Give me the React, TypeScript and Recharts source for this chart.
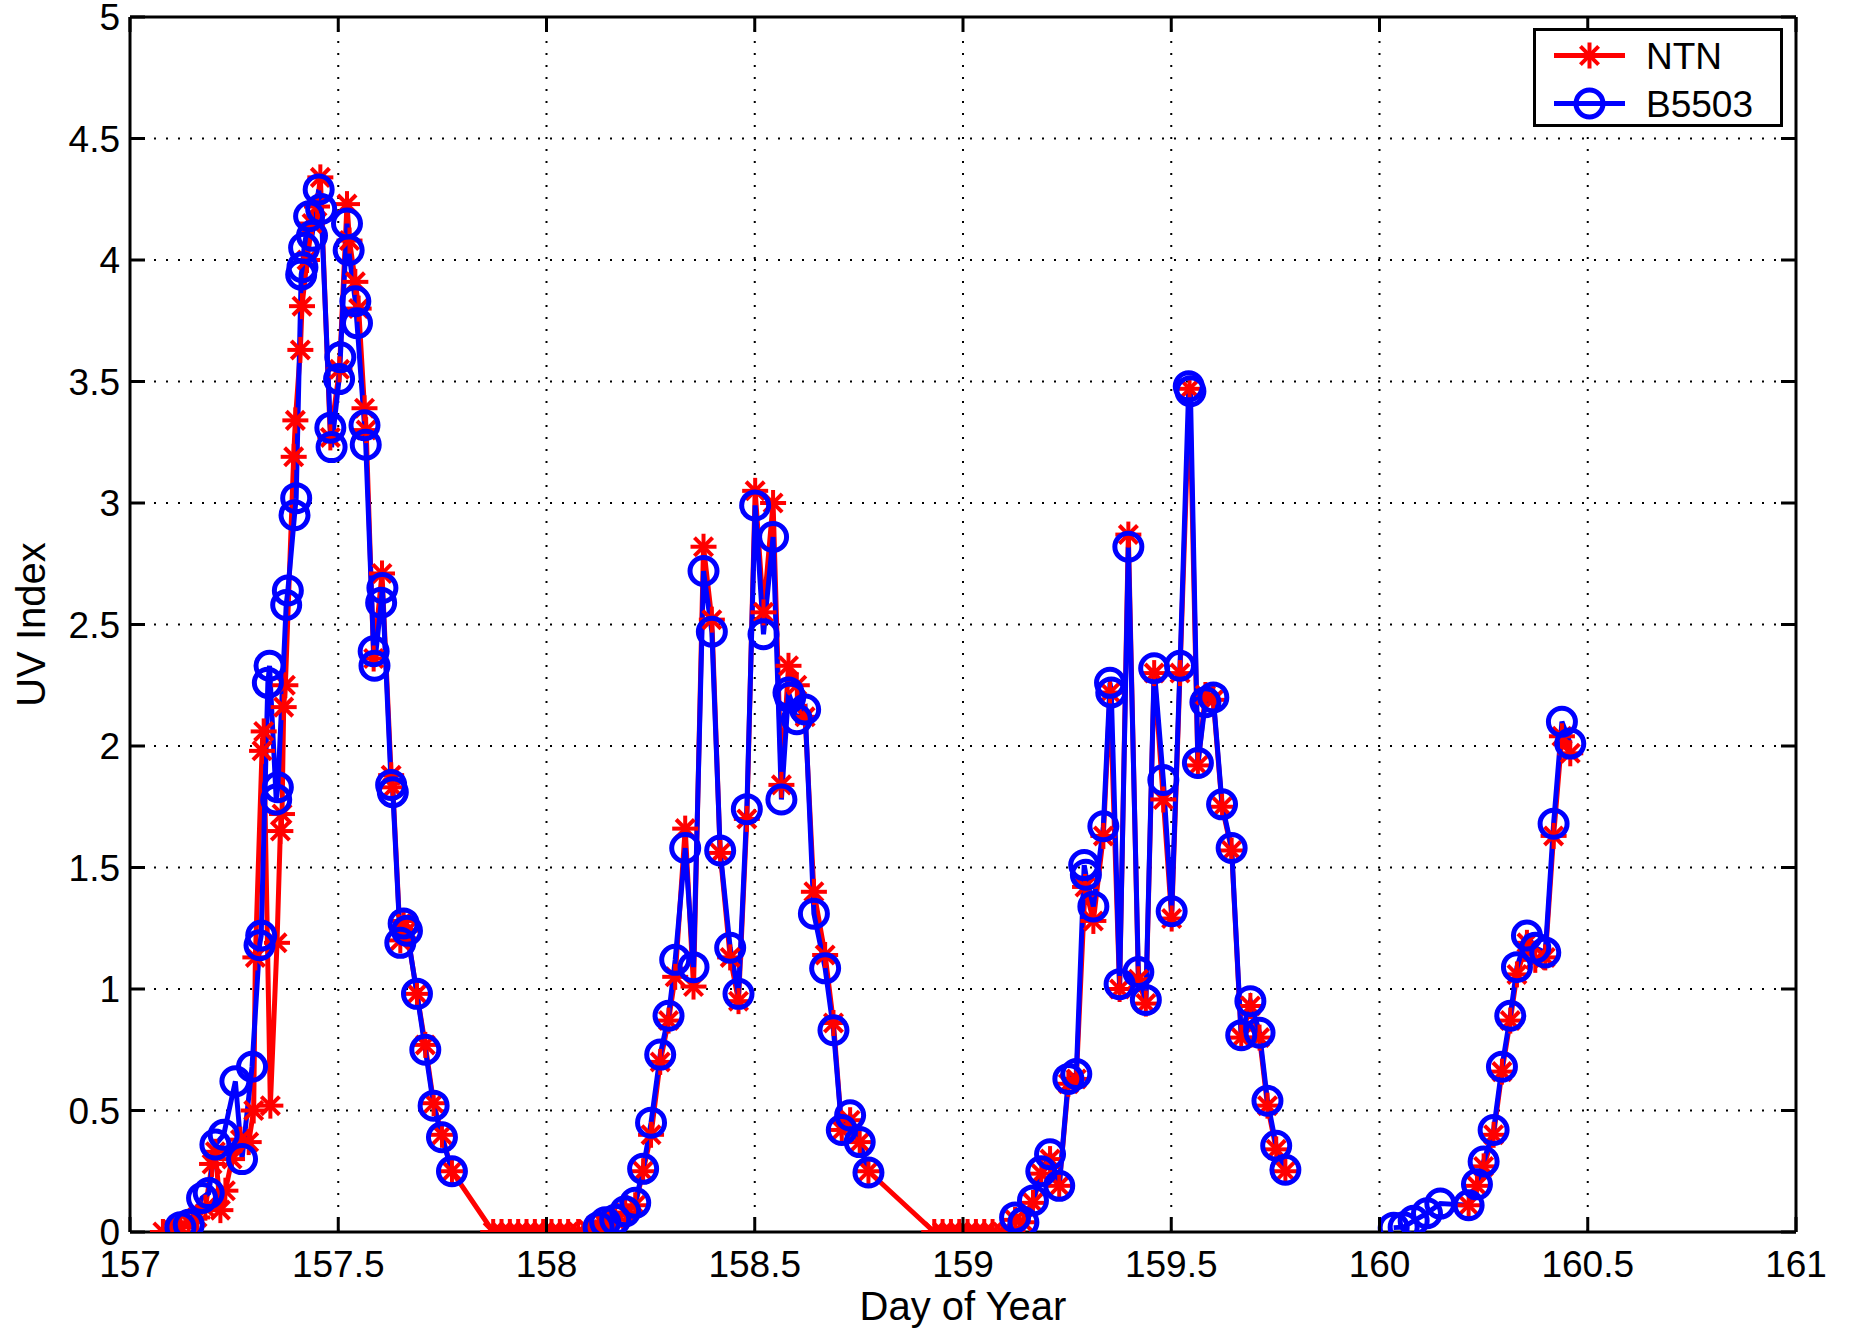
import React from 'react'
import { LineChart, Line, XAxis, YAxis, CartesianGrid, Legend } from 'recharts'

// axis ticks
const dayTicks = [157, 157.5, 158, 158.5, 159, 159.5, 160, 160.5, 161]
const uvTicks = [0, 0.5, 1, 1.5, 2, 2.5, 3, 3.5, 4, 4.5, 5]

// NTN sensor (null = gap in the record)
const ntnDay = [
  157.079, 157.101, 157.121, 157.141, 157.161, 157.181, 157.197, 157.205, 157.217, 157.229, 157.245, 157.265, 157.285,
  157.297, 157.301, 157.317, 157.321, 157.337, 157.353, 157.361, 157.365, 157.369, 157.373, 157.393, 157.397, 157.409,
  157.413, 157.425, 157.437, 157.449, 157.457, 157.481, 157.503, 157.521, 157.527, 157.541, 157.549, 157.563, 157.567,
  157.585, 157.605, 157.627, 157.631, 157.649, 157.657, 157.665, 157.689, 157.709, 157.729, 157.749, 157.773,
  157.872, 157.892, 157.912, 157.932, 157.952, 157.972, 157.992, 158.012, 158.032, 158.052, 158.076, 158.1,
  158.125, 158.141, 158.165, 158.189, 158.213, 158.232, 158.251, 158.273, 158.293, 158.309, 158.333, 158.353, 158.377,
  158.397, 158.417, 158.441, 158.461, 158.481, 158.501, 158.521, 158.544, 158.564, 158.581, 158.601, 158.621, 158.642,
  158.669, 158.689, 158.709, 158.729, 158.752, 158.773,
  158.931, 158.951, 158.971, 158.991, 159.011, 159.031, 159.051, 159.071, 159.095,
  159.125, 159.145, 159.168, 159.188, 159.209, 159.231, 159.253, 159.272, 159.293, 159.313, 159.337, 159.353, 159.376,
  159.397, 159.421, 159.439, 159.459, 159.481, 159.501, 159.521, 159.544, 159.564, 159.582, 159.601, 159.622, 159.645,
  159.668, 159.69, 159.712, 159.731, 159.752, 159.774,
  159.9,
  160.214, 160.234, 160.25, 160.274, 160.294, 160.314, 160.33, 160.354, 160.374, 160.398, 160.418, 160.438, 160.458,
]
const ntnUv = [
  0, 0.01, 0.02, 0.04, 0.06, 0.1, 0.28, 0.33, 0.09, 0.17, 0.3, 0.38, 0.37,
  0.5, 1.13, 1.98, 2.06, 0.52, 1.19, 1.65, 1.72, 2.16, 2.25, 3.19, 3.34, 3.63,
  3.81, 4.0, 4.15, 4.22, 4.34, 3.27, 3.55, 4.23, 4.08, 3.91, 3.8, 3.39, 3.3,
  2.36, 2.71, 1.88, 1.83, 1.2, 1.28, 1.24, 0.98, 0.77, 0.53, 0.4, 0.25,
  0, 0, 0, 0, 0, 0, 0, 0, 0, 0, 0, 0.01,
  0.02, 0.03, 0.05, 0.08, 0.11, 0.25, 0.4, 0.7, 0.87, 1.05, 1.66, 1.01, 2.82,
  2.52, 1.56, 1.13, 0.95, 1.7, 3.05, 2.55, 3.0, 1.84, 2.33, 2.25, 2.12, 1.4,
  1.14, 0.86, 0.42, 0.46, 0.37, 0.25,
  0, 0, 0, 0, 0, 0, 0, 0, 0,
  0.05, 0.04, 0.12, 0.24, 0.3, 0.19, 0.61, 0.63, 1.42, 1.28, 1.63, 2.22, 1.0,
  2.87, 1.04, 0.94, 2.3, 1.78, 1.29, 2.3, 3.47, 1.92, 2.21, 2.19, 1.75, 1.57,
  0.8, 0.93, 0.8, 0.52, 0.34, 0.25,
  null,
  0.11, 0.19, 0.27, 0.4, 0.66, 0.87, 1.06, 1.19, 1.12, 1.13, 1.63, 2.04, 1.97,
]

// B5503 sensor
const b5503Day = [
  157.121, 157.141, 157.173, 157.189, 157.205, 157.225, 157.253, 157.269, 157.293, 157.311, 157.315, 157.331, 157.335,
  157.351, 157.355, 157.375, 157.379, 157.395, 157.399, 157.411, 157.414, 157.418, 157.43, 157.437, 157.453, 157.459,
  157.481, 157.484, 157.502, 157.505, 157.521, 157.525, 157.541, 157.545, 157.563, 157.566, 157.585, 157.587, 157.603,
  157.606, 157.627, 157.631, 157.649, 157.657, 157.665, 157.689, 157.709, 157.729, 157.749, 157.773,
  157.95,
  158.125, 158.141, 158.165, 158.189, 158.213, 158.232, 158.251, 158.273, 158.293, 158.309, 158.333, 158.353, 158.377,
  158.397, 158.417, 158.441, 158.461, 158.481, 158.501, 158.521, 158.544, 158.564, 158.581, 158.585, 158.601, 158.621,
  158.642, 158.669, 158.689, 158.709, 158.729, 158.752, 158.773,
  158.95,
  159.125, 159.145, 159.168, 159.188, 159.209, 159.231, 159.253, 159.272, 159.291, 159.295, 159.313, 159.337, 159.353,
  159.356, 159.376, 159.397, 159.421, 159.439, 159.459, 159.481, 159.501, 159.521, 159.542, 159.546, 159.564, 159.582,
  159.601, 159.622, 159.645, 159.668, 159.69, 159.712, 159.731, 159.752, 159.774,
  159.9,
  160.034, 160.058, 160.082, 160.114, 160.146, 160.214, 160.234, 160.25, 160.274, 160.294, 160.314, 160.33, 160.354,
  160.374, 160.398, 160.418, 160.438, 160.458,
]
const b5503Uv = [
  0.02, 0.03, 0.14, 0.16, 0.36, 0.4, 0.62, 0.3, 0.68, 1.18, 1.22, 2.26, 2.33,
  1.78, 1.83, 2.58, 2.64, 2.95, 3.02, 3.94, 3.97, 4.05, 4.18, 4.1, 4.29, 4.21,
  3.31, 3.23, 3.51, 3.6, 4.15, 4.04, 3.83, 3.74, 3.32, 3.24, 2.39, 2.33, 2.59,
  2.65, 1.84, 1.81, 1.19, 1.27, 1.24, 0.98, 0.75, 0.52, 0.39, 0.25,
  null,
  0.02, 0.04, 0.05, 0.085, 0.12, 0.26, 0.45, 0.73, 0.89, 1.12, 1.58, 1.09, 2.72,
  2.47, 1.57, 1.17, 0.98, 1.74, 2.99, 2.46, 2.86, 1.78, 2.22, 2.2, 2.11, 2.15,
  1.31, 1.085, 0.83, 0.42, 0.48, 0.37, 0.245,
  null,
  0.06, 0.04, 0.13, 0.25, 0.32, 0.19, 0.63, 0.65, 1.51, 1.47, 1.34, 1.67, 2.26,
  2.22, 1.02, 2.82, 1.07, 0.955, 2.32, 1.86, 1.32, 2.33, 3.48, 3.46, 1.93, 2.18,
  2.2, 1.76, 1.58, 0.81, 0.95, 0.82, 0.54, 0.355, 0.256,
  null,
  0.018, 0.02, 0.046, 0.077, 0.117, 0.11, 0.196, 0.29, 0.42, 0.68, 0.89, 1.09, 1.22,
  1.17, 1.15, 1.68, 2.1, 2.01,
]

const FONT = '"Liberation Sans", Arial, Helvetica, sans-serif'
const RED = '#ff0000'
const BLUE = '#0000ff'
const TICK_LEN = 15

const toPoints = (days: number[], uv: (number | null)[]) => days.map((day, i) => ({ day, uv: uv[i] }))
const ntnData = toPoints(ntnDay, ntnUv)
const b5503Data = toPoints(b5503Day, b5503Uv)

function Asterisk({ cx, cy, size = 13 }: { cx: number; cy: number; size?: number }) {
  const d = size * 0.7
  return (
    <g stroke={RED} strokeWidth={4}>
      <line x1={cx - size} y1={cy} x2={cx + size} y2={cy} />
      <line x1={cx} y1={cy - size} x2={cx} y2={cy + size} />
      <line x1={cx - d} y1={cy - d} x2={cx + d} y2={cy + d} />
      <line x1={cx - d} y1={cy + d} x2={cx + d} y2={cy - d} />
    </g>
  )
}

const starDot = (props: any) => {
  const { cx, cy, payload, index } = props
  if (cx == null || cy == null || payload?.uv == null) return <g key={`s${index}`} />
  return <Asterisk key={`s${index}`} cx={cx} cy={cy} />
}

const circleDot = (props: any) => {
  const { cx, cy, payload, index } = props
  if (cx == null || cy == null || payload?.uv == null) return <g key={`c${index}`} />
  return <circle key={`c${index}`} cx={cx} cy={cy} r={13.5} fill="none" stroke={BLUE} strokeWidth={5} />
}

// MATLAB style ticks: pointing into the box
const BottomTick = ({ x, y, payload }: any) => (
  <g>
    <line x1={x} y1={y} x2={x} y2={y - TICK_LEN} stroke="#000" strokeWidth={3} />
    <text x={x} y={y + 45} textAnchor="middle" fontFamily={FONT} fontSize={37} fill="#000">
      {payload.value}
    </text>
  </g>
)
const TopTick = ({ x, y }: any) => <line x1={x} y1={y} x2={x} y2={y + TICK_LEN} stroke="#000" strokeWidth={3} />
const LeftTick = ({ x, y, payload }: any) => (
  <g>
    <line x1={x} y1={y} x2={x + TICK_LEN} y2={y} stroke="#000" strokeWidth={3} />
    <text x={x - 10} y={y + 13} textAnchor="end" fontFamily={FONT} fontSize={37} fill="#000">
      {payload.value}
    </text>
  </g>
)
const RightTick = ({ x, y }: any) => <line x1={x} y1={y} x2={x - TICK_LEN} y2={y} stroke="#000" strokeWidth={3} />

const xTitle = (props: any) => {
  const vb = props.viewBox
  return (
    <text x={vb.x + vb.width / 2} y={vb.y + 88} textAnchor="middle" fontFamily={FONT} fontSize={40} fill="#000">
      Day of Year
    </text>
  )
}
const yTitle = (props: any) => {
  const vb = props.viewBox
  const cx = 45
  const cy = vb.y + vb.height / 2
  return (
    <text x={cx} y={cy} transform={`rotate(-90 ${cx} ${cy})`} textAnchor="middle" fontFamily={FONT} fontSize={40} fill="#000">
      UV Index
    </text>
  )
}

function LegendBox() {
  const rows = [
    { name: 'NTN', y: 24.5, color: RED, marker: 'star' },
    { name: 'B5503', y: 72.5, color: BLUE, marker: 'circle' },
  ]
  return (
    <div style={{ width: 244, height: 93, border: '3px solid #000', background: '#fff' }}>
      <svg width={244} height={93} style={{ display: 'block' }}>
        {rows.map((r) => (
          <g key={r.name}>
            <line x1={18} y1={r.y} x2={89} y2={r.y} stroke={r.color} strokeWidth={5} />
            {r.marker === 'star' ? (
              <Asterisk cx={53.5} cy={r.y} />
            ) : (
              <circle cx={53.5} cy={r.y} r={13.5} fill="none" stroke={BLUE} strokeWidth={5} />
            )}
            <text x={110} y={r.y + 13} fontFamily={FONT} fontSize={37} fill="#000">
              {r.name}
            </text>
          </g>
        ))}
      </svg>
    </div>
  )
}

export default function App() {
  return (
    <div style={{ width: 1849, height: 1330, background: '#fff' }}>
      <style>{'body{margin:0;}'}</style>
      <LineChart width={1849} height={1330} margin={{ top: 16, right: 52, bottom: 8, left: 10 }}>
        <CartesianGrid stroke="#000" strokeWidth={2} strokeDasharray="2 10" />
        <XAxis
          dataKey="day"
          type="number"
          domain={[157, 161]}
          ticks={dayTicks}
          interval={0}
          height={90}
          tickSize={0}
          tickMargin={0}
          tickLine={false}
          axisLine={{ stroke: '#000', strokeWidth: 3 }}
          tick={<BottomTick />}
          label={xTitle}
          allowDataOverflow
        />
        <XAxis
          xAxisId="top"
          orientation="top"
          dataKey="day"
          type="number"
          domain={[157, 161]}
          ticks={dayTicks}
          interval={0}
          height={1}
          tickSize={0}
          tickMargin={0}
          tickLine={false}
          axisLine={{ stroke: '#000', strokeWidth: 3 }}
          tick={<TopTick />}
          allowDataOverflow
        />
        <YAxis
          type="number"
          domain={[0, 5]}
          ticks={uvTicks}
          interval={0}
          width={120}
          tickSize={0}
          tickMargin={0}
          tickLine={false}
          axisLine={{ stroke: '#000', strokeWidth: 3 }}
          tick={<LeftTick />}
          label={yTitle}
          allowDataOverflow
        />
        <YAxis
          yAxisId="right"
          orientation="right"
          type="number"
          domain={[0, 5]}
          ticks={uvTicks}
          interval={0}
          width={1}
          tickSize={0}
          tickMargin={0}
          tickLine={false}
          axisLine={{ stroke: '#000', strokeWidth: 3 }}
          tick={<RightTick />}
          allowDataOverflow
        />
        <Legend
          layout="horizontal"
          align="center"
          verticalAlign="middle"
          content={() => <LegendBox />}
          wrapperStyle={{ position: 'absolute', top: 28, left: 1533, width: 250, height: 99, margin: 0, padding: 0 }}
        />
        <Line
          data={ntnData}
          dataKey="uv"
          name="NTN"
          type="linear"
          stroke={RED}
          strokeWidth={5}
          dot={starDot}
          activeDot={false}
          connectNulls={false}
          isAnimationActive={false}
        />
        <Line
          data={b5503Data}
          dataKey="uv"
          name="B5503"
          type="linear"
          stroke={BLUE}
          strokeWidth={5}
          dot={circleDot}
          activeDot={false}
          connectNulls={false}
          isAnimationActive={false}
        />
      </LineChart>
    </div>
  )
}
